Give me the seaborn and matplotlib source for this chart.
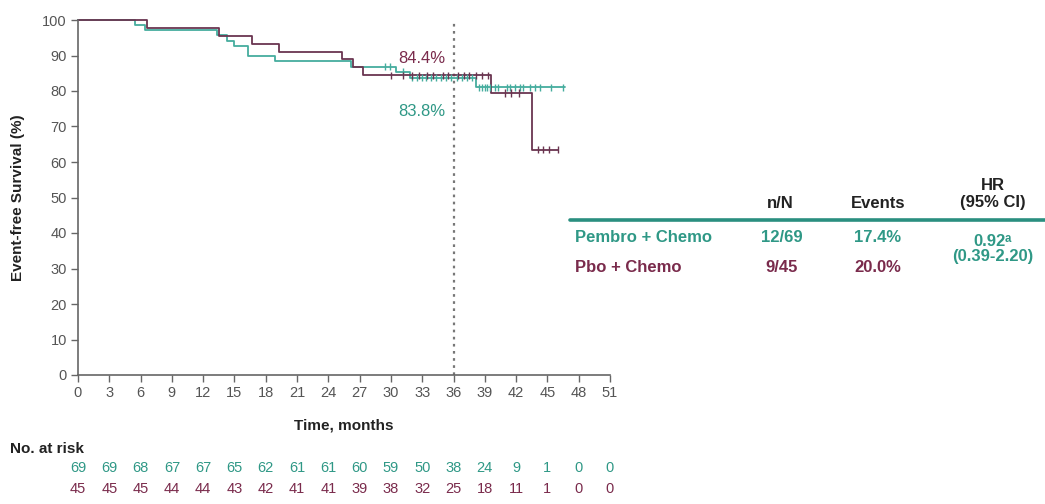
import numpy as np
import pandas as pd
import matplotlib
matplotlib.use("Agg")
import matplotlib.pyplot as plt
import matplotlib.transforms as mtransforms
import seaborn as sns

# ---- Kaplan-Meier step data (time in months, survival in %) ----
pembro_times = [0, 5.5, 6.4, 13.3, 14.3, 15.0, 16.3, 18.9, 26.2, 30.5, 31.8, 38.2, 46.7]
pembro_surv = [100, 98.6, 97.1, 95.7, 94.2, 92.8, 89.9, 88.4, 86.9, 85.4, 83.8, 81.0, 81.0]

pbo_times = [0, 6.6, 13.5, 16.7, 19.3, 25.3, 26.4, 27.3, 39.6, 43.5, 46.0]
pbo_surv = [100, 97.8, 95.6, 93.3, 91.1, 88.9, 86.7, 84.4, 79.4, 63.5, 63.5]

# censoring times
pembro_censor = [29.4, 29.9, 31.2, 32.0, 32.5, 33.0, 33.4, 33.8, 34.3, 34.8, 35.3,
                 35.8, 36.3, 36.8, 37.3, 37.8, 38.4, 38.7, 39.0, 39.2, 39.5, 40.0,
                 40.3, 41.1, 41.4, 41.9, 42.4, 42.7, 43.3, 43.8, 44.3, 45.3, 46.5]
pbo_censor = [30.0, 31.2, 32.0, 32.7, 33.5, 34.0, 35.0, 35.5, 36.4, 37.0, 37.5,
              38.2, 38.7, 39.3, 40.9, 41.5, 42.3, 44.1, 44.6, 45.2, 46.0]

# landmark annotation at 36 months
landmark_month = 36
pembro_landmark = 83.8
pbo_landmark = 84.4

# number at risk
risk_months = [0, 3, 6, 9, 12, 15, 18, 21, 24, 27, 30, 33, 36, 39, 42, 45, 48, 51]
pembro_risk = [69, 69, 68, 67, 67, 65, 62, 61, 61, 60, 59, 50, 38, 24, 9, 1, 0, 0]
pbo_risk = [45, 45, 45, 44, 44, 43, 42, 41, 41, 39, 38, 32, 25, 18, 11, 1, 0, 0]

# summary table
arm_names = ["Pembro + Chemo", "Pbo + Chemo"]
n_over_N = ["12/69", "9/45"]
event_pct = ["17.4%", "20.0%"]
hr_text = "0.92\u1d43"
ci_text = "(0.39-2.20)"

# ---- style ----
sns.set_theme(style="ticks")
plt.rcParams["font.family"] = ["Liberation Sans", "DejaVu Sans"]

TEAL_LINE = "#45ad9e"
TEAL_TEXT = "#2f9886"
MAROON_LINE = "#6a3550"
MAROON_TEXT = "#7a2b4c"
GREY = "#555555"

W, H = 1045, 504
fig = plt.figure(figsize=(W / 100, H / 100), dpi=100)
ax = fig.add_axes([78 / W, 1 - 375 / H, (610 - 78) / W, (375 - 20) / H])


def step_value(times, surv, t):
    idx = np.searchsorted(times, t, side="right") - 1
    return surv[idx]


curves = pd.concat([
    pd.DataFrame({"time": pembro_times, "surv": pembro_surv, "arm": arm_names[0]}),
    pd.DataFrame({"time": pbo_times, "surv": pbo_surv, "arm": arm_names[1]}),
])
palette = {arm_names[0]: TEAL_LINE, arm_names[1]: MAROON_LINE}

sns.lineplot(data=curves, x="time", y="surv", hue="arm", palette=palette,
             estimator=None, sort=False, drawstyle="steps-post", linewidth=1.3,
             legend=False, ax=ax)
for line in ax.get_lines():
    line.set_clip_on(False)

censor = pd.concat([
    pd.DataFrame({"time": pembro_censor,
                  "surv": [step_value(pembro_times, pembro_surv, t) for t in pembro_censor],
                  "arm": arm_names[0]}),
    pd.DataFrame({"time": pbo_censor,
                  "surv": [step_value(pbo_times, pbo_surv, t) for t in pbo_censor],
                  "arm": arm_names[1]}),
])
sns.scatterplot(data=censor, x="time", y="surv", hue="arm", palette=palette,
                marker="|", s=30, linewidth=1.0, legend=False, ax=ax, zorder=3)

ax.axvline(landmark_month, ymin=0, ymax=1, color="#777777", linestyle=(0, (1.2, 2.0)),
           linewidth=1.6, zorder=1)

ax.text(landmark_month - 0.8, pbo_landmark + 4.8, f"{pbo_landmark:.1f}%", color=MAROON_TEXT,
        fontsize=12, ha="right", va="center")
ax.text(landmark_month - 0.8, pembro_landmark - 9.5, f"{pembro_landmark:.1f}%", color=TEAL_TEXT,
        fontsize=12, ha="right", va="center")

# ---- axes ----
ax.set_xlim(0, 51)
ax.set_ylim(0, 100)
ax.set_xticks(risk_months)
ax.set_yticks(np.arange(0, 101, 10))
sns.despine(ax=ax)
for side in ("left", "bottom"):
    ax.spines[side].set_color("#666666")
    ax.spines[side].set_linewidth(1.2)
ax.tick_params(axis="both", colors="#666666", labelcolor=GREY, labelsize=10.5,
               length=5, width=1.0, direction="out", pad=3)
ax.set_xlabel("")
ax.set_ylabel("Event-free Survival (%)", fontsize=11, fontweight="bold", color="#222222")
ax.yaxis.set_label_coords(-0.10, 0.5)

fig.text(344 / W, 1 - 425 / H, "Time, months", ha="center", va="center",
         fontsize=11, fontweight="bold", color="#222222")

# ---- number at risk ----
fig.text(10 / W, 1 - 449 / H, "No. at risk", ha="left", va="center",
         fontsize=11, fontweight="bold", color="#222222")
risk_tr = mtransforms.blended_transform_factory(ax.transData, fig.transFigure)
for m, a, b in zip(risk_months, pembro_risk, pbo_risk):
    ax.text(m, 1 - 468 / H, str(a), transform=risk_tr, ha="center", va="center",
            fontsize=10.5, color=TEAL_TEXT, clip_on=False)
    ax.text(m, 1 - 489 / H, str(b), transform=risk_tr, ha="center", va="center",
            fontsize=10.5, color=MAROON_TEXT, clip_on=False)

# ---- summary table ----
fig.add_artist(plt.Line2D([570 / W, 1.0], [1 - 220 / H, 1 - 220 / H],
                          transform=fig.transFigure, color="#2a8f80", linewidth=2.6))
hdr_kw = dict(ha="center", va="center", fontsize=12, fontweight="bold", color="#222222")
fig.text(780 / W, 1 - 203 / H, "n/N", **hdr_kw)
fig.text(878 / W, 1 - 203 / H, "Events", **hdr_kw)
fig.text(993 / W, 1 - 185 / H, "HR", **hdr_kw)
fig.text(993 / W, 1 - 203 / H, "(95% CI)", **hdr_kw)

row_y = [237, 268]
row_colors = [TEAL_TEXT, MAROON_TEXT]
for name, nn, ev, y, c in zip(arm_names, n_over_N, event_pct, row_y, row_colors):
    fig.text(575 / W, 1 - y / H, name, ha="left", va="center", fontsize=12,
             fontweight="bold", color=c)
    fig.text(782 / W, 1 - y / H, nn, ha="center", va="center", fontsize=12,
             fontweight="bold", color=c)
    fig.text(878 / W, 1 - y / H, ev, ha="center", va="center", fontsize=12,
             fontweight="bold", color=c)
fig.text(993 / W, 1 - 241 / H, hr_text, ha="center", va="center", fontsize=12,
         fontweight="bold", color=TEAL_TEXT)
fig.text(993 / W, 1 - 257 / H, ci_text, ha="center", va="center", fontsize=12,
         fontweight="bold", color=TEAL_TEXT)

fig.savefig("out.png", dpi=100, facecolor="white")
